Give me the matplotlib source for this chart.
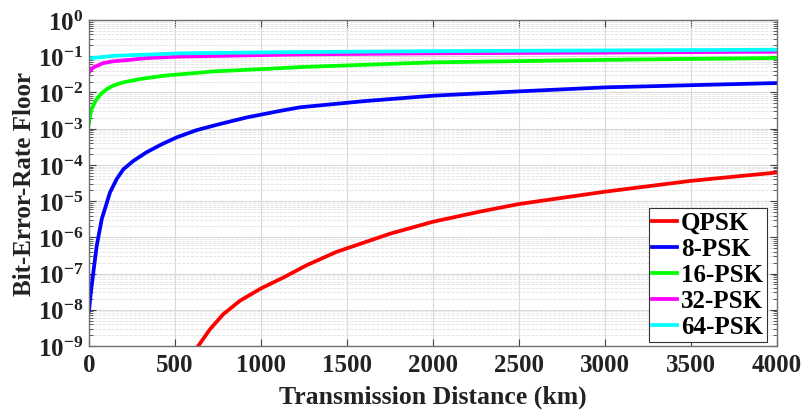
import numpy as np
import matplotlib
matplotlib.use('Agg')
import matplotlib.pyplot as plt
from matplotlib.ticker import LogLocator, NullFormatter, FixedLocator

# valeurs (distance en km, log10 du BER)
km_qpsk = [635, 703, 781, 878, 1000, 1130, 1265, 1440, 1750, 2000, 2273, 2500, 3000, 3500, 4000]
log_qpsk = [-9.0, -8.54, -8.12, -7.75, -7.41, -7.11, -6.77, -6.40, -5.90, -5.57, -5.29, -5.08, -4.74, -4.44, -4.21]

km_8psk = [0, 10, 25, 45, 74, 122, 161, 200, 258, 335, 423, 510, 626, 762, 917, 1110, 1227, 1600, 2000, 2500, 3000, 3500, 4000]
log_8psk = [-8.03, -7.55, -6.97, -6.23, -5.50, -4.76, -4.39, -4.12, -3.89, -3.65, -3.43, -3.24, -3.04,
            -2.87, -2.69, -2.51, -2.41, -2.24, -2.09, -1.97, -1.86, -1.80, -1.74]

km_16psk = [0, 6, 15, 29, 45, 74, 103, 141, 200, 297, 432, 723, 1110, 1227, 2000, 3000, 4000]
log_16psk = [-2.85, -2.64, -2.46, -2.32, -2.18, -2.02, -1.91, -1.81, -1.72, -1.63, -1.54, -1.42,
             -1.33, -1.30, -1.17, -1.10, -1.05]

km_32psk = [0, 12, 25, 83, 141, 238, 335, 529, 1110, 1227, 2000, 3000, 4000]
log_32psk = [-1.45, -1.37, -1.31, -1.19, -1.14, -1.10, -1.05, -1.01, -0.96, -0.95, -0.92, -0.90, -0.875]

km_64psk = [0, 141, 529, 1110, 2000, 3000, 4000]
log_64psk = [-1.06, -0.99, -0.92, -0.89, -0.86, -0.84, -0.82]

labels = ['QPSK', '8-PSK', '16-PSK', '32-PSK', '64-PSK']
couleurs = ['#ff0000', '#0000ff', '#00ff00', '#ff00ff', '#00ffff']
xticks = [0, 500, 1000, 1500, 2000, 2500, 3000, 3500, 4000]
ydecades = list(range(-9, 1))

plt.rcParams['font.family'] = ['Liberation Serif', 'DejaVu Serif']
plt.rcParams['font.weight'] = 'bold'
plt.rcParams['mathtext.fontset'] = 'custom'
plt.rcParams['mathtext.rm'] = 'Liberation Serif:bold'
plt.rcParams['mathtext.it'] = 'Liberation Serif:bold'
plt.rcParams['mathtext.bf'] = 'Liberation Serif:bold'

fig = plt.figure(figsize=(8.05, 4.14), dpi=100)
ax = fig.add_axes([89/805, 1-347/414, (777-89)/805, (347-21)/414])

series = [(km_qpsk, log_qpsk), (km_8psk, log_8psk), (km_16psk, log_16psk),
          (km_32psk, log_32psk), (km_64psk, log_64psk)]
for (d, lv), lab, c in zip(series, labels, couleurs):
    ax.semilogy(d, 10.0**np.array(lv), color=c, lw=2.7, label=lab, solid_joinstyle='round')

ax.set_xlim(0, 4000)
ax.set_ylim(1e-9, 1)
ax.set_xticks(xticks)
ax.set_xticklabels([str(t) for t in xticks])
ax.yaxis.set_major_locator(FixedLocator([10.0**k for k in ydecades]))
ax.set_yticklabels([r'$10^{%d}$' % k for k in ydecades])
ax.yaxis.set_minor_locator(LogLocator(base=10, subs=np.arange(2, 10), numticks=20))
ax.yaxis.set_minor_formatter(NullFormatter())

ax.tick_params(axis='both', which='both', direction='in', top=True, right=True,
               colors='#404040', labelcolor='#222222')
ax.tick_params(axis='both', which='major', length=5, labelsize=18)
ax.tick_params(axis='y', which='minor', length=3)
ax.tick_params(axis='x', which='major', pad=5)
ax.tick_params(axis='y', which='major', pad=4)

ax.grid(True, which='major', color='#d9d9d9', lw=0.8, ls='-')
ax.grid(True, which='minor', axis='y', color='#e0e0e0', lw=0.6, ls='--')
for s in ax.spines.values():
    s.set_color('#707070')
    s.set_linewidth(1.0)

ax.set_xlabel('Transmission Distance (km)', fontsize=18.5, fontweight='bold', color='#222222', labelpad=6)
ax.set_ylabel('Bit-Error-Rate Floor', fontsize=18, fontweight='bold', color='#222222', labelpad=1)

leg = ax.legend(loc='lower right', bbox_to_anchor=(767/805, 1-343/414), bbox_transform=fig.transFigure,
                fontsize=18, handlelength=1.0, handletextpad=0.15, borderpad=0.15,
                labelspacing=0.12, fancybox=False, framealpha=1, edgecolor='#333333',
                borderaxespad=0)
leg.get_frame().set_linewidth(0.8)

fig.savefig('out.png', dpi=100)
